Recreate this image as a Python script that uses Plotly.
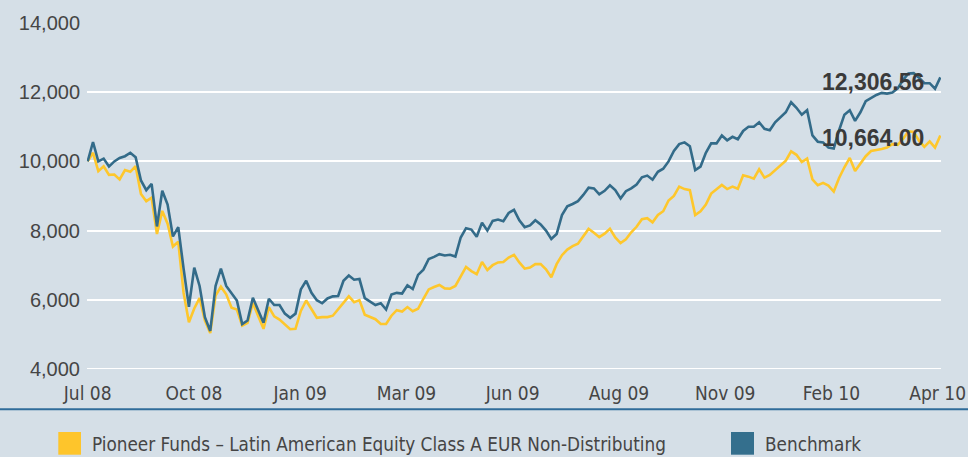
import pandas as pd
import plotly.graph_objects as go

start_date = "2008-07-15"
n_points = 161

fund = [
    10000, 10250, 9720, 9860, 9610, 9620, 9480, 9750, 9700, 9860,
    9060, 8850, 8950, 7900, 8570, 8200, 7540, 7680, 6200, 5350,
    5750, 6050, 5400, 5040, 6120, 6380, 6160, 5770, 5720, 5250,
    5330, 5910, 5530, 5160, 5790, 5520, 5430, 5280, 5150, 5160,
    5680, 5980, 5730, 5480, 5500, 5500, 5540, 5730, 5900, 6100,
    5930, 5990, 5570, 5500, 5440, 5300, 5300, 5540, 5700, 5660,
    5790, 5670, 5740, 6030, 6300, 6370, 6430, 6330, 6320, 6400,
    6670, 6950, 6830, 6740, 7090, 6860, 7000, 7080, 7090, 7220,
    7300, 7080, 6900, 6930, 7030, 7030, 6880, 6650, 7030, 7290,
    7450, 7550, 7620, 7840, 8050, 7940, 7810, 7910, 8050, 7800,
    7640, 7750, 7950, 8110, 8330, 8360, 8240, 8450, 8560, 8870,
    9000, 9270, 9200, 9170, 8450, 8560, 8750, 9070, 9190, 9320,
    9200, 9270, 9210, 9600, 9560, 9500, 9770, 9530, 9610, 9740,
    9870, 10020, 10290, 10190, 9980, 10080, 9480, 9310, 9380, 9300,
    9130, 9520, 9830, 10100, 9720, 9930, 10150, 10300, 10320, 10360,
    10400, 10500, 10480, 10650, 10870, 10850, 10600, 10420, 10580, 10400,
    10750,
]

benchmark = [
    10000, 10560, 10000, 10080, 9850, 10000, 10100, 10150, 10250, 10120,
    9450, 9170, 9350, 8120, 9150, 8750, 7830, 8100, 6900, 5800,
    6930, 6400, 5500, 5100, 6400, 6900, 6400, 6200, 5980, 5300,
    5400, 6060, 5680, 5340, 6030, 5850, 5850, 5600, 5480, 5600,
    6300, 6550, 6200, 5990, 5900, 6040, 6100, 6110, 6550, 6700,
    6580, 6600, 6050, 5940, 5850, 5900, 5720, 6150, 6200, 6180,
    6420, 6310, 6720, 6870, 7180, 7240, 7320, 7280, 7300, 7250,
    7800, 8070, 8030, 7820, 8230, 8000, 8280, 8320, 8270, 8510,
    8600, 8300, 8100, 8150, 8300, 8180, 8000, 7760, 7900, 8450,
    8700, 8770, 8850, 9030, 9240, 9220, 9050, 9150, 9310, 9170,
    8930, 9140, 9220, 9330, 9540, 9590, 9470, 9700, 9790, 10000,
    10300, 10500, 10550, 10440, 9750, 9850, 10250, 10520, 10520, 10750,
    10610, 10710, 10640, 10880, 11000, 11000, 11130, 10940, 10900, 11130,
    11270, 11420, 11710, 11550, 11350, 11480, 10750, 10570, 10550, 10400,
    10370, 10900, 11350, 11480, 11170, 11420, 11740, 11830, 11920, 11980,
    11960, 11990, 12110, 12350, 12540, 12550, 12420, 12260, 12260, 12100,
    12430,
]

tick_labels = ["Jul 08", "Oct 08", "Jan 09", "Mar 09", "Jun 09",
               "Aug 09", "Nov 09", "Feb 10", "Apr 10"]
fund_label = "10,664.00"
bench_label = "12,306.56"
fund_name = "Pioneer Funds \u2013 Latin American Equity Class A EUR Non-Distributing"
bench_name = "Benchmark"

dates = pd.date_range(start_date, periods=n_points, freq="4D")
tick_dates = pd.date_range(start_date, periods=len(tick_labels), freq="1914h")

BG = "#d5dfe7"
YELLOW = "#fec72c"
BLUE = "#336b89"
TXT = "#454545"
NARROW = "DejaVu Sans Condensed, Liberation Sans Narrow, Roboto, sans-serif"
SANS = "Liberation Sans, Arial, sans-serif"

fig = go.Figure()
fig.add_trace(go.Scatter(x=dates, y=fund, mode="lines", name=fund_name,
                         line=dict(color=YELLOW, width=2.6), showlegend=False))
fig.add_trace(go.Scatter(x=dates, y=benchmark, mode="lines", name=bench_name,
                         line=dict(color=BLUE, width=2.6), showlegend=False))

for val, lab in ((12306.56, bench_label), (10664.0, fund_label)):
    fig.add_annotation(x=dates[-1], y=val, text=lab, showarrow=False,
                       xanchor="right", yanchor="middle", xshift=-14,
                       font=dict(family=SANS, size=23, color="#3a3a3a", weight="bold"))

W = 854.0
H = 346.0
def px_x(p):
    return (p - 87) / W
def px_y(p):
    return (369.3 - p) / H

# bottom gridline at 4,000
fig.add_shape(type="line", xref="paper", yref="y", x0=0, x1=1, y0=4000, y1=4000,
              line=dict(color="white", width=2), layer="below")

# bottom separator line
fig.add_shape(type="line", xref="paper", yref="paper",
              x0=px_x(-5), x1=px_x(975), y0=px_y(409.5), y1=px_y(409.5),
              line=dict(color="#2f6c9a", width=2))

# legend squares
fig.add_shape(type="rect", xref="paper", yref="paper",
              x0=px_x(58.3), x1=px_x(81), y0=px_y(455), y1=px_y(432.3),
              fillcolor="#fec52b", line=dict(width=0))
fig.add_shape(type="rect", xref="paper", yref="paper",
              x0=px_x(731), x1=px_x(754), y0=px_y(455), y1=px_y(432.3),
              fillcolor="#346f8d", line=dict(width=0))
fig.add_annotation(xref="paper", yref="paper", x=px_x(89.5), y=px_y(444.5),
                   text=fund_name, showarrow=False, xanchor="left", yanchor="middle",
                   font=dict(family=NARROW, size=18.75, color=TXT))
fig.add_annotation(xref="paper", yref="paper", x=px_x(763), y=px_y(444.5),
                   text=bench_name, showarrow=False, xanchor="left", yanchor="middle",
                   font=dict(family=NARROW, size=18.75, color=TXT))

fig.update_layout(
    width=968, height=457,
    margin=dict(l=87, r=27, t=23, b=88),
    paper_bgcolor=BG, plot_bgcolor=BG,
    showlegend=False,
    xaxis=dict(range=[dates[0] - pd.Timedelta(hours=12), dates[-1] + pd.Timedelta(hours=12)],
               tickvals=tick_dates, ticktext=tick_labels,
               showgrid=False, zeroline=False, showline=False, ticks="",
               tickfont=dict(family=NARROW, size=19, color=TXT),
               ticklabelstandoff=11, ticklabeloverflow="allow", automargin=False),
    yaxis=dict(range=[4000, 14000], dtick=2000, tickformat=",",
               showgrid=True, gridcolor="white", gridwidth=2,
               zeroline=False, showline=False, ticks="",
               tickfont=dict(family=SANS, size=20, color=TXT),
               ticklabelstandoff=6, automargin=False),
)

fig.write_html(
    "out.html",
    config={"displayModeBar": False},
    post_script="document.body.style.margin='0';document.body.style.background='%s';" % BG,
)
